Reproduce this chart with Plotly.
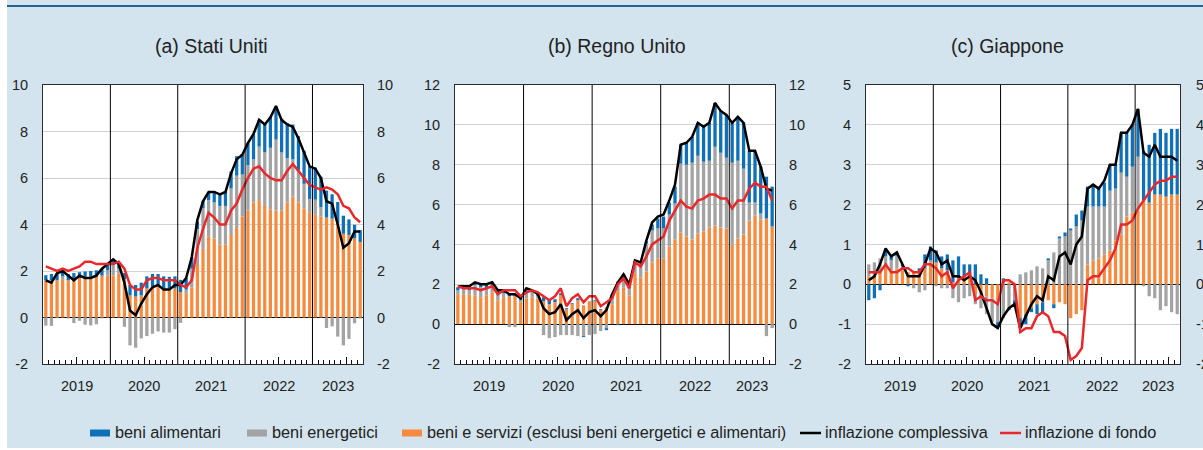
import numpy as np
import plotly.graph_objects as go

# ---------------- data (contributions, percentage points; YoY %) ----------------
years = ["2019", "2020", "2021", "2022", "2023"]
titles = ["(a) Stati Uniti", "(b) Regno Unito", "(c) Giappone"]

# United States: Jan 2019 - Sep 2023
us_core_c = [1.6, 1.6, 1.6, 1.65, 1.6, 1.65, 1.7, 1.75, 1.75, 1.75, 1.8, 1.8,
             1.8, 1.9, 1.65, 0.95, 0.9, 0.95, 1.25, 1.35, 1.35, 1.25, 1.25, 1.25,
             1.1, 1.05, 1.3, 2.3, 2.95, 3.5, 3.4, 3.15, 3.15, 3.55, 3.85, 4.35,
             4.6, 4.95, 5.05, 4.8, 4.65, 4.6, 4.6, 4.95, 5.2, 4.95, 4.7, 4.5,
             4.42, 4.35, 4.3, 4.25, 4.05, 3.6, 3.55, 3.4, 3.25]
us_energy = [-0.35, -0.36, -0.03, 0.12, -0.04, -0.24, -0.14, -0.31, -0.34, -0.29, -0.04, 0.24,
             0.45, 0.2, -0.4, -1.2, -1.3, -0.9, -0.8, -0.7, -0.6, -0.65, -0.65, -0.5,
             -0.23, 0.15, 0.8, 1.5, 1.75, 1.55, 1.55, 1.65, 1.65, 2.0, 2.25, 1.8,
             1.95, 1.85, 2.3, 2.3, 2.65, 3.05, 2.5, 1.9, 1.6, 1.4, 1.05, 0.6,
             0.65, 0.4, -0.45, -0.38, -0.82, -1.2, -0.92, -0.25, -0.04]
us_food = [0.22, 0.27, 0.29, 0.25, 0.27, 0.26, 0.25, 0.23, 0.25, 0.28, 0.27, 0.25,
           0.25, 0.25, 0.26, 0.45, 0.5, 0.55, 0.52, 0.52, 0.52, 0.52, 0.5, 0.52,
           0.52, 0.5, 0.48, 0.33, 0.3, 0.33, 0.47, 0.51, 0.63, 0.73, 0.84, 0.87,
           0.96, 1.08, 1.15, 1.25, 1.35, 1.42, 1.45, 1.5, 1.5, 1.45, 1.42, 1.4,
           1.38, 1.3, 1.16, 1.05, 0.92, 0.78, 0.67, 0.59, 0.51]
us_headline = [1.6, 1.5, 1.9, 2.0, 1.8, 1.6, 1.8, 1.7, 1.7, 1.8, 2.1, 2.3,
               2.5, 2.3, 1.5, 0.3, 0.1, 0.6, 1.0, 1.3, 1.4, 1.2, 1.2, 1.4,
               1.4, 1.7, 2.6, 4.2, 5.0, 5.4, 5.4, 5.3, 5.4, 6.2, 6.8, 7.0,
               7.5, 7.9, 8.5, 8.3, 8.6, 9.1, 8.5, 8.3, 8.2, 7.7, 7.1, 6.5,
               6.4, 6.0, 5.0, 4.9, 4.0, 3.0, 3.2, 3.7, 3.7]
us_core = [2.2, 2.1, 2.0, 2.1, 2.0, 2.1, 2.2, 2.4, 2.4, 2.3, 2.3, 2.3,
           2.3, 2.4, 2.1, 1.4, 1.2, 1.2, 1.6, 1.7, 1.7, 1.6, 1.6, 1.6,
           1.4, 1.3, 1.6, 3.0, 3.8, 4.5, 4.3, 4.0, 4.0, 4.6, 4.9, 5.5,
           6.0, 6.4, 6.5, 6.2, 6.0, 5.9, 5.9, 6.3, 6.6, 6.3, 6.0, 5.7,
           5.6, 5.5, 5.6, 5.5, 5.3, 4.8, 4.7, 4.3, 4.1]

# United Kingdom: Jan 2019 - Aug 2023
uk_core_c = [1.5, 1.5, 1.5, 1.45, 1.35, 1.45, 1.6, 1.2, 1.35, 1.4, 1.4, 1.1,
             1.3, 1.35, 1.3, 1.15, 1.0, 1.1, 1.45, 0.75, 1.0, 1.2, 0.95, 1.15,
             1.15, 0.7, 0.85, 1.0, 1.65, 1.85, 1.45, 2.55, 2.35, 2.65, 3.1, 3.3,
             3.3, 3.9, 4.25, 4.6, 4.4, 4.25, 4.55, 4.65, 4.85, 4.95, 4.85, 4.8,
             4.0, 4.3, 4.5, 5.2, 5.45, 5.25, 5.3, 4.9]
uk_energy = [0.2, 0.25, 0.2, 0.5, 0.5, 0.4, 0.35, 0.35, 0.2, -0.15, -0.15, 0.1,
             0.4, 0.25, 0.1, -0.55, -0.7, -0.65, -0.55, -0.55, -0.55, -0.6, -0.6, -0.55,
             -0.5, -0.35, -0.2, 0.5, 0.5, 0.6, 0.55, 0.65, 0.75, 1.4, 1.6, 1.5,
             1.5, 1.6, 1.8, 3.45, 3.6, 3.85, 3.9, 3.5, 3.35, 3.95, 3.75, 3.55,
             4.1, 3.9, 3.3, 0.9, 0.65, 0.3, -0.6, -0.2]
uk_food = [0.15, 0.15, 0.2, 0.15, 0.15, 0.15, 0.15, 0.15, 0.15, 0.1, 0.1, 0.1,
           0.1, 0.1, 0.1, 0.2, 0.2, 0.15, 0.1, 0.05, 0.05, 0.1, -0.05, 0.0,
           0.05, 0.05, -0.1, 0.0, -0.05, 0.05, 0.0, 0.0, 0.05, 0.1, 0.3, 0.5,
           0.6, 0.6, 0.85, 0.95, 1.1, 1.3, 1.65, 1.75, 1.9, 2.2, 2.1, 2.15,
           2.0, 2.2, 2.3, 2.6, 2.55, 2.35, 2.1, 2.0]
uk_headline = [1.9, 1.9, 1.9, 2.1, 2.0, 2.0, 2.1, 1.7, 1.7, 1.5, 1.5, 1.3,
               1.8, 1.7, 1.5, 0.8, 0.5, 0.6, 1.0, 0.2, 0.5, 0.7, 0.3, 0.6,
               0.7, 0.4, 0.7, 1.5, 2.1, 2.5, 2.0, 3.2, 3.1, 4.2, 5.1, 5.4,
               5.5, 6.2, 7.0, 9.0, 9.1, 9.4, 10.1, 9.9, 10.1, 11.1, 10.7, 10.5,
               10.1, 10.4, 10.1, 8.7, 8.7, 7.9, 6.8, 6.7]
uk_core = [1.9, 1.8, 1.8, 1.8, 1.7, 1.8, 1.9, 1.5, 1.7, 1.7, 1.7, 1.4,
           1.6, 1.7, 1.6, 1.4, 1.2, 1.4, 1.8, 0.9, 1.3, 1.5, 1.1, 1.4,
           1.4, 0.9, 1.1, 1.3, 2.0, 2.3, 1.8, 3.1, 2.9, 3.4, 4.0, 4.2,
           4.4, 5.2, 5.7, 6.2, 5.9, 5.8, 6.2, 6.3, 6.5, 6.5, 6.3, 6.3,
           5.8, 6.2, 6.2, 6.8, 7.1, 6.9, 6.9, 6.2]

# Japan: Jan 2019 - Aug 2023
jp_core_c = [0.2, 0.25, 0.3, 0.45, 0.35, 0.4, 0.35, 0.3, 0.3, 0.3, 0.4, 0.55,
             0.55, 0.4, 0.35, 0.05, 0.15, 0.2, 0.25, -0.25, -0.25, -0.3, -0.35, -0.4,
             0.05, 0.05, 0.0, -0.85, -0.75, -0.6, -0.5, -0.45, -0.4, -0.5, -0.45, -0.5,
             -0.85, -0.75, -0.65, 0.5, 0.6, 0.65, 0.75, 0.85, 1.1, 1.25, 1.7, 1.8,
             1.85, 2.1, 2.05, 2.25, 2.25, 2.2, 2.25, 2.25]
jp_energy = [0.3, 0.3, 0.35, 0.25, 0.25, 0.3, 0.1, 0.0, -0.1, -0.2, -0.15, 0.05,
             -0.05, -0.1, -0.1, -0.35, -0.45, -0.35, -0.3, -0.25, -0.35, -0.45, -0.6, -0.55,
             -0.85, -0.6, -0.4, 0.25, 0.3, 0.35, 0.45, 0.4, 0.6, 0.8, 1.15, 1.2,
             1.35, 1.45, 1.6, 1.45, 1.35, 1.3, 1.2, 1.5, 1.3, 1.55, 1.0, 1.15,
             1.35, -0.05, -0.3, -0.35, -0.65, -0.55, -0.7, -0.75]
jp_food = [-0.4, -0.35, -0.15, 0.15, 0.1, 0.1, 0.05, -0.05, 0.0, 0.1, 0.35, 0.35,
           0.3, 0.3, 0.4, 0.55, 0.55, 0.3, 0.25, 0.5, 0.25, 0.15, 0.0, -0.1,
           0.1, -0.05, -0.1, -0.25, -0.25, -0.1, -0.25, -0.25, 0.05, -0.1, 0.05, 0.1,
           0.05, 0.3, 0.25, 0.5, 0.55, 0.5, 0.6, 0.65, 0.6, 1.0, 1.1, 1.05,
           1.2, 1.25, 1.45, 1.55, 1.65, 1.6, 1.65, 1.65]
jp_headline = [0.1, 0.2, 0.5, 0.9, 0.7, 0.8, 0.5, 0.2, 0.2, 0.2, 0.5, 0.9,
               0.8, 0.5, 0.6, 0.2, 0.2, 0.1, 0.2, 0.1, -0.2, -0.6, -1.0, -1.1,
               -0.8, -0.6, -0.5, -1.1, -0.8, -0.5, -0.3, -0.4, 0.2, 0.1, 0.7, 0.8,
               0.5, 1.0, 1.2, 2.4, 2.5, 2.4, 2.6, 3.0, 3.0, 3.8, 3.8, 4.0,
               4.4, 3.3, 3.2, 3.5, 3.2, 3.2, 3.2, 3.1]
jp_core = [0.3, 0.3, 0.3, 0.5, 0.3, 0.3, 0.4, 0.4, 0.3, 0.3, 0.5, 0.5,
           0.4, 0.2, 0.3, -0.1, 0.1, 0.2, 0.3, -0.4, -0.3, -0.4, -0.4, -0.5,
           0.1, 0.1, 0.0, -1.2, -1.1, -1.1, -0.8, -0.7, -0.8, -1.2, -1.2, -1.3,
           -1.9, -1.8, -1.6, 0.1, 0.2, 0.2, 0.4, 0.6, 0.9, 1.5, 1.5, 1.6,
           1.9, 2.1, 2.3, 2.5, 2.6, 2.6, 2.7, 2.7]

y_ranges = [[-2, 10], [-2, 12], [-2, 5]]
y_dticks = [2, 2, 1]

names = ["beni alimentari", "beni energetici",
         "beni e servizi (esclusi beni energetici e alimentari)",
         "inflazione complessiva", "inflazione di fondo"]

# ---------------- styling ----------------
BG = "#d3e4ee"
C_FOOD = "#0f70b7"
C_ENERGY = "#a3a3a3"
C_CORE = "#f68b3f"
C_HEAD = "#000000"
C_CORELINE = "#e8282b"
FONT = "Liberation Sans, Arial, Helvetica, sans-serif"
TXT = "#222222"

W, H = 1203, 450
L, R, T, B = 43, 1180, 85, 364          # plot-area pixel box (outer)
PW, PH = R - L, B - T
pan_px = [(43, 363), (455, 775), (866, 1180)]
domains = [[(a - L) / PW, (b - L) / PW] for a, b in pan_px]
right_standoff = [13, 13, 15]


def px_x(p):
    return (p - L) / PW


def px_y(p):
    return (B - p) / PH


panels = [
    (us_core_c, us_energy, us_food, us_headline, us_core),
    (uk_core_c, uk_energy, uk_food, uk_headline, uk_core),
    (jp_core_c, jp_energy, jp_food, jp_headline, jp_core),
]

fig = go.Figure()
shapes = []
annotations = []
layout_axes = {}

for k, (core_c, energy, food, head, core) in enumerate(panels):
    sfx = "" if k == 0 else str(k + 1)
    xa, ya, yr = "x" + sfx, "y" + sfx, "y" + str(k + 4)
    n = len(head)
    x = np.arange(n)
    fig.add_bar(x=x, y=core_c, marker_color=C_CORE, marker_line_width=0, name=names[2],
                showlegend=False, xaxis=xa, yaxis=ya, hoverinfo="skip")
    fig.add_bar(x=x, y=energy, marker_color=C_ENERGY, marker_line_width=0, name=names[1],
                showlegend=False, xaxis=xa, yaxis=ya, hoverinfo="skip")
    fig.add_bar(x=x, y=food, marker_color=C_FOOD, marker_line_width=0, name=names[0],
                showlegend=False, xaxis=xa, yaxis=ya, hoverinfo="skip")
    fig.add_scatter(x=x, y=head, mode="lines", line=dict(color=C_HEAD, width=2.5), name=names[3],
                    showlegend=False, xaxis=xa, yaxis=ya, hoverinfo="skip")
    fig.add_scatter(x=x, y=core, mode="lines", line=dict(color=C_CORELINE, width=2.5), name=names[4],
                    showlegend=False, xaxis=xa, yaxis=ya, hoverinfo="skip")
    # invisible carrier for the right-hand axis
    fig.add_scatter(x=x, y=head, mode="lines", line=dict(width=0), opacity=0, showlegend=False,
                    xaxis=xa, yaxis=yr, hoverinfo="skip")

    year_bounds = [12 * j - 0.5 for j in range(1, len(years)) if 12 * j < n]
    mid_years = [12 * j + 5.5 for j in range(len(years)) if 12 * j + 5.5 < n - 0.5]
    month_bounds = [i + 0.5 for i in range(n - 1) if (i + 1) % 12 != 0]
    label_pos = [(12 * j + min(12 * j + 11, n - 1)) / 2 for j in range(len(years))]

    yticks = list(np.arange(y_ranges[k][0], y_ranges[k][1] + 0.01, y_dticks[k]))
    ytext = [str(int(v)) for v in yticks]

    layout_axes["xaxis" + sfx] = dict(
        domain=domains[k], anchor=ya, range=[-0.5, n - 0.5], showgrid=False, zeroline=False,
        showline=True, linecolor="#2a2a2a", linewidth=1, mirror=True,
        tickmode="array", tickvals=mid_years, ticks="inside", ticklen=7, tickcolor="#111",
        tickwidth=1, showticklabels=False,
        minor=dict(tickmode="array", tickvals=month_bounds, ticks="inside", ticklen=4,
                   tickcolor="#111", tickwidth=1, showgrid=False),
    )
    layout_axes["yaxis" + sfx] = dict(
        domain=[0, 1], anchor=xa, range=y_ranges[k], tickmode="array", tickvals=yticks,
        ticktext=ytext, showgrid=True, gridcolor="#d2d2d2", gridwidth=1,
        zeroline=True, zerolinecolor="#000", zerolinewidth=1,
        showline=True, linecolor="#2a2a2a", linewidth=1, mirror=True, ticks="",
        ticklabelstandoff=11, tickfont=dict(size=14.5, color=TXT, family=FONT),
    )
    layout_axes["yaxis" + str(k + 4)] = dict(
        overlaying=ya, anchor=xa, side="right", range=y_ranges[k], tickmode="array",
        tickvals=yticks, ticktext=ytext, showgrid=False, zeroline=False, showline=False,
        ticks="", ticklabelstandoff=right_standoff[k],
        tickfont=dict(size=14.5, color=TXT, family=FONT),
    )

    for xb in year_bounds:
        shapes.append(dict(type="line", xref=xa, yref=ya + " domain", x0=xb, x1=xb, y0=0, y1=1,
                           line=dict(color="#000", width=1)))
    for yv, pos in zip(years, label_pos):
        annotations.append(dict(text=yv, xref=xa, yref="paper", x=pos, y=px_y(386),
                                showarrow=False, xanchor="center", yanchor="middle",
                                font=dict(size=14.5, color=TXT, family=FONT)))

title_px = [212, 617, 1007]
for t, tx in zip(titles, title_px):
    annotations.append(dict(text=t, xref="paper", yref="paper", x=px_x(tx), y=px_y(46),
                            showarrow=False, xanchor="center", yanchor="middle",
                            font=dict(size=19.5, color=TXT, family=FONT)))

# ---- legend (drawn below the panels) ----
leg_y = 433
leg_items = [  # (label, colour, kind, symbol left px)
    (names[0], C_FOOD, "box", 90),
    (names[1], C_ENERGY, "box", 247),
    (names[2], C_CORE, "box", 402),
    (names[3], C_HEAD, "line", 800),
    (names[4], C_CORELINE, "line", 1000),
]
for label, col, kind, sx in leg_items:
    if kind == "box":
        shapes.append(dict(type="rect", xref="paper", yref="paper", x0=px_x(sx), x1=px_x(sx + 20),
                           y0=px_y(leg_y + 3.5), y1=px_y(leg_y - 3.5), fillcolor=col, line_width=0))
    else:
        shapes.append(dict(type="line", xref="paper", yref="paper", x0=px_x(sx), x1=px_x(sx + 21),
                           y0=px_y(leg_y), y1=px_y(leg_y), line=dict(color=col, width=2.5)))
    annotations.append(dict(text=label, xref="paper", yref="paper", x=px_x(sx + 23), y=px_y(leg_y - 1),
                            showarrow=False, xanchor="left", yanchor="middle",
                            font=dict(size=16.3, color=TXT, family=FONT)))

# background decorations
shapes.insert(0, dict(type="rect", xref="paper", yref="paper", x0=px_x(-2), x1=px_x(7),
                      y0=px_y(-2), y1=px_y(452), fillcolor="#ffffff", line_width=0, layer="below"))
shapes.insert(0, dict(type="rect", xref="paper", yref="paper", x0=px_x(-2), x1=px_x(1205),
                      y0=px_y(448), y1=px_y(452), fillcolor="#ffffff", line_width=0, layer="below"))
shapes.append(dict(type="line", xref="paper", yref="paper", x0=px_x(7), x1=px_x(1205),
                   y0=px_y(6), y1=px_y(6), line=dict(color="#24648f", width=2)))

fig.update_layout(
    width=W, height=H,
    margin=dict(l=L, r=W - R, t=T, b=H - B, pad=0, autoexpand=False),
    paper_bgcolor=BG, plot_bgcolor="#ffffff",
    barmode="relative", bargap=0.42,
    font=dict(family=FONT, color=TXT, size=14),
    shapes=shapes, annotations=annotations,
    showlegend=False,
    hovermode=False,
    **layout_axes,
)

fig.write_html(
    "out.html",
    config={"displayModeBar": False, "staticPlot": True},
    post_script="document.body.style.margin='0px';document.body.style.padding='0px';"
                "document.body.style.overflow='hidden';",
)
